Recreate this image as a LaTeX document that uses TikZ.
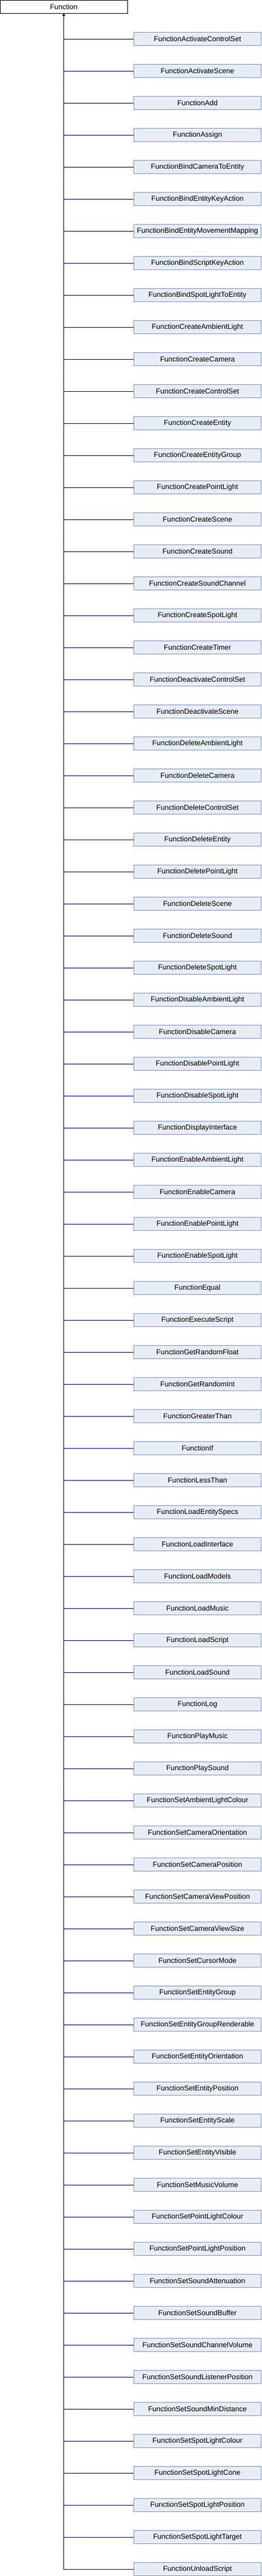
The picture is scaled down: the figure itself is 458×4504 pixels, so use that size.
\documentclass[tikz,border=0pt]{standalone}
\usepackage{fontspec}
\setmainfont{Liberation Sans}
\usetikzlibrary{arrows.meta}
\definecolor{edgeblue}{RGB}{0,0,150}
\definecolor{boxline}{RGB}{124,149,202}
\definecolor{boxfill}{RGB}{232,236,245}
\begin{document}
\begin{tikzpicture}[x=1pt,y=-1pt,
base/.style={draw=black,fill=white,line width=0.9pt,minimum width=222.5pt,minimum height=22.5pt,inner sep=0pt,font=\fontsize{12.6}{15}\selectfont},
derived/.style={base,draw=boxline,fill=boxfill},
inherit/.style={draw=edgeblue,line width=0.9pt,-{Triangle[width=4pt,length=4.5pt]}}]
\useasboundingbox (0,0) rectangle (458,4504);
\node[base] (fn) at (111.75,11.75) {Function};
\foreach \cls [count=\i] in {FunctionActivateControlSet,FunctionActivateScene,FunctionAdd,FunctionAssign,
FunctionBindCameraToEntity,FunctionBindEntityKeyAction,FunctionBindEntityMovementMapping,
FunctionBindScriptKeyAction,FunctionBindSpotLightToEntity,FunctionCreateAmbientLight,
FunctionCreateCamera,FunctionCreateControlSet,FunctionCreateEntity,FunctionCreateEntityGroup,
FunctionCreatePointLight,FunctionCreateScene,FunctionCreateSound,FunctionCreateSoundChannel,
FunctionCreateSpotLight,FunctionCreateTimer,FunctionDeactivateControlSet,FunctionDeactivateScene,
FunctionDeleteAmbientLight,FunctionDeleteCamera,FunctionDeleteControlSet,FunctionDeleteEntity,
FunctionDeletePointLight,FunctionDeleteScene,FunctionDeleteSound,FunctionDeleteSpotLight,
FunctionDisableAmbientLight,FunctionDisableCamera,FunctionDisablePointLight,FunctionDisableSpotLight,
FunctionDisplayInterface,FunctionEnableAmbientLight,FunctionEnableCamera,FunctionEnablePointLight,
FunctionEnableSpotLight,FunctionEqual,FunctionExecuteScript,FunctionGetRandomFloat,
FunctionGetRandomInt,FunctionGreaterThan,FunctionIf,FunctionLessThan,FunctionLoadEntitySpecs,
FunctionLoadInterface,FunctionLoadModels,FunctionLoadMusic,FunctionLoadScript,FunctionLoadSound,
FunctionLog,FunctionPlayMusic,FunctionPlaySound,FunctionSetAmbientLightColour,
FunctionSetCameraOrientation,FunctionSetCameraPosition,FunctionSetCameraViewPosition,
FunctionSetCameraViewSize,FunctionSetCursorMode,FunctionSetEntityGroup,
FunctionSetEntityGroupRenderable,FunctionSetEntityOrientation,FunctionSetEntityPosition,
FunctionSetEntityScale,FunctionSetEntityVisible,FunctionSetMusicVolume,FunctionSetPointLightColour,
FunctionSetPointLightPosition,FunctionSetSoundAttenuation,FunctionSetSoundBuffer,
FunctionSetSoundChannelVolume,FunctionSetSoundListenerPosition,FunctionSetSoundMinDistance,
FunctionSetSpotLightColour,FunctionSetSpotLightCone,FunctionSetSpotLightPosition,
FunctionSetSpotLightTarget,FunctionUnloadScript}
{
\node[derived] (c\i) at (346,{68+56*(\i-1)}) {\cls};
\draw[inherit] (c\i.west) -| (fn.south);
}
\end{tikzpicture}
\end{document}
